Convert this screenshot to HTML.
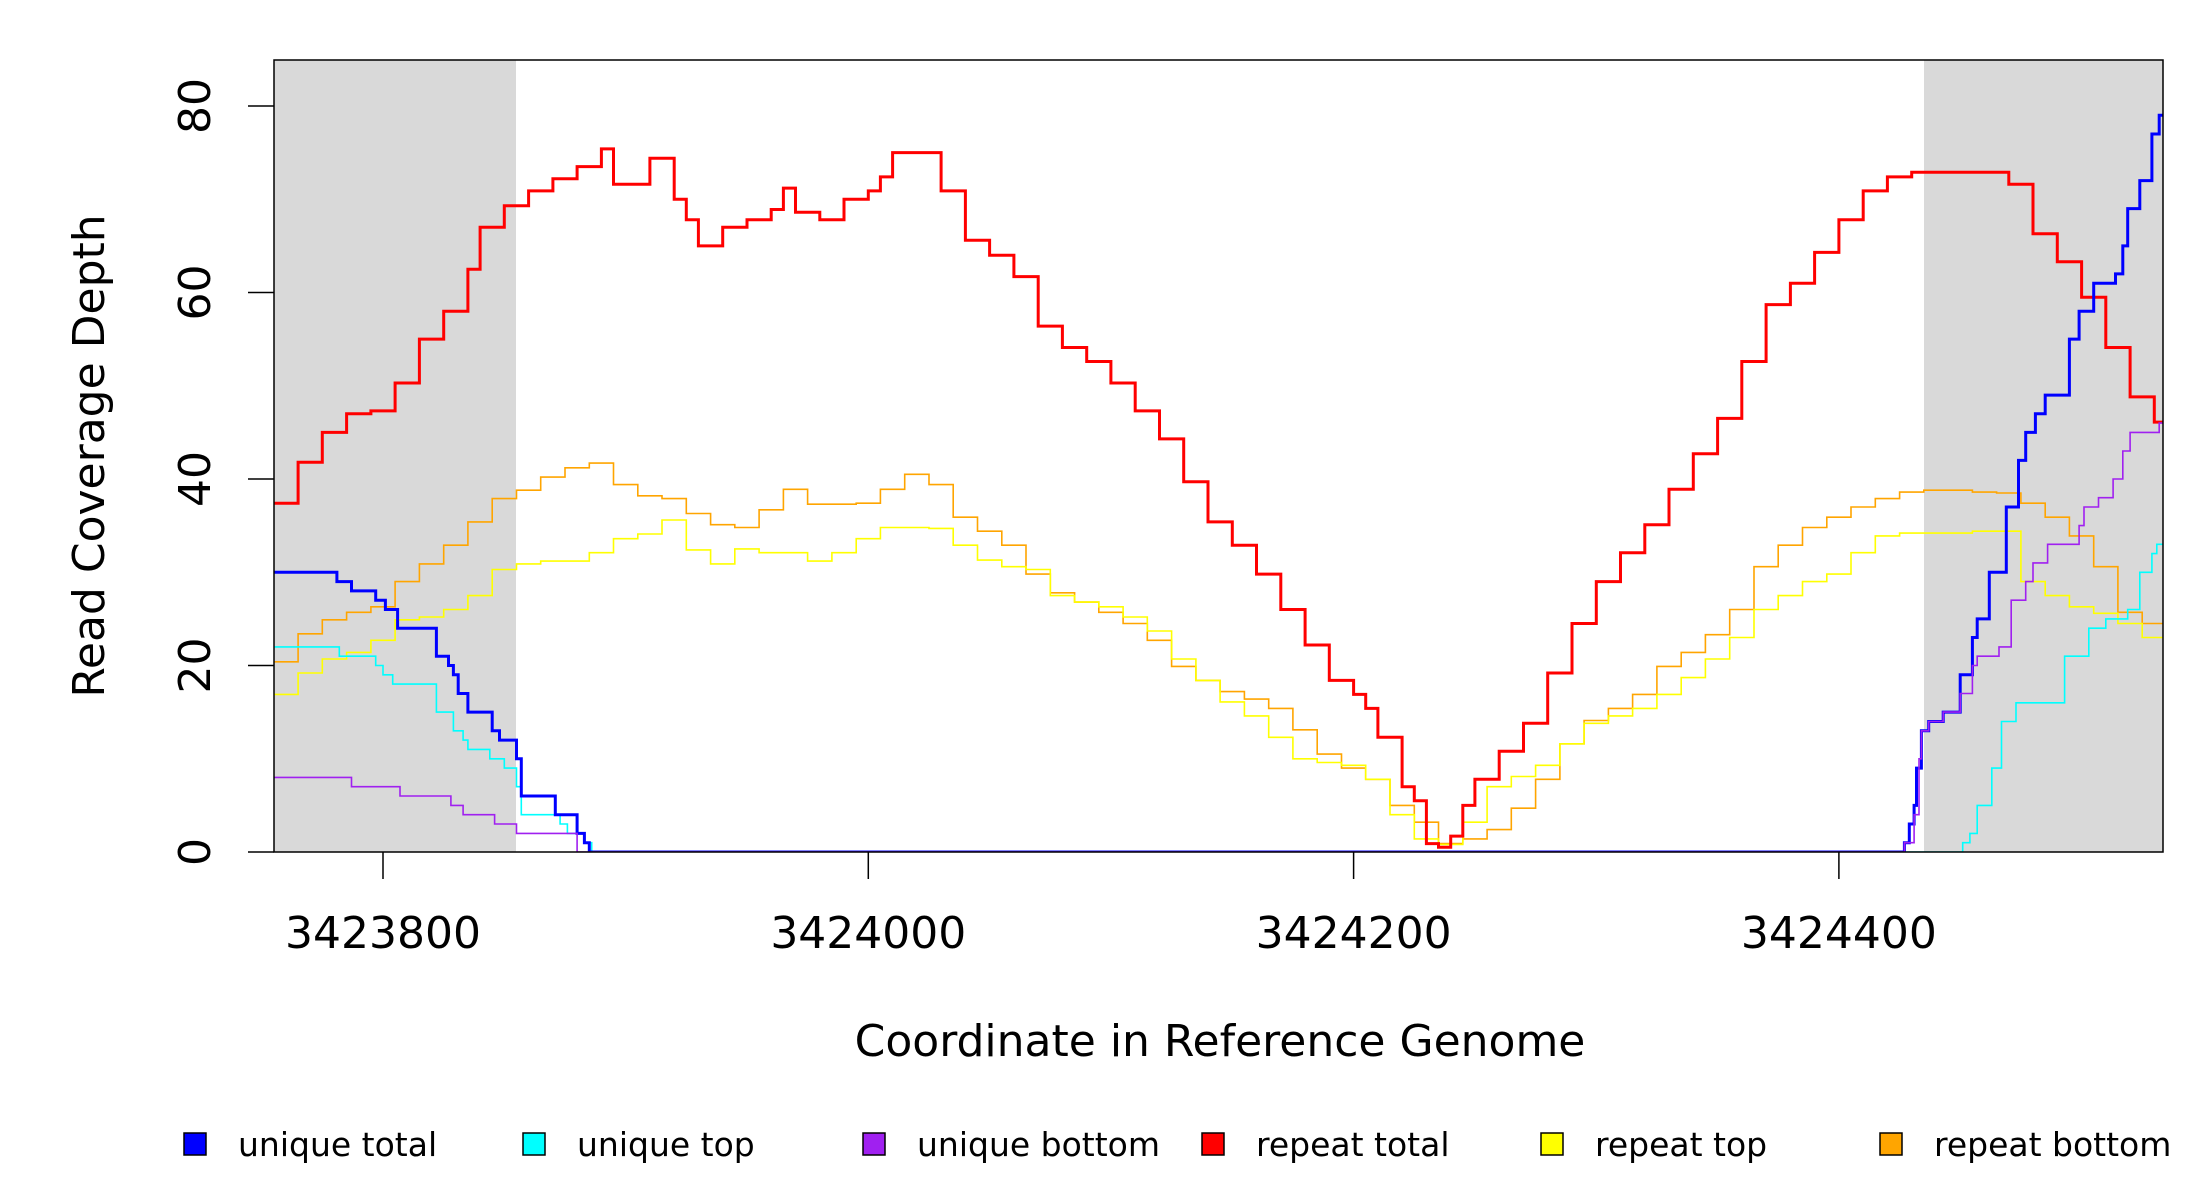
<!DOCTYPE html>
<html><head><meta charset="utf-8"><style>
html,body{margin:0;padding:0;background:#fff}
svg{display:block;font-family:"DejaVu Sans","Liberation Sans",sans-serif}
</style></head><body>
<svg id="chart" width="2200" height="1200" viewBox="0 0 2200 1200">
<defs><clipPath id="clip"><rect x="274" y="60" width="1889" height="792"/></clipPath></defs>
<rect x="274" y="60" width="242" height="792" fill="#d9d9d9"/>
<rect x="1924" y="60" width="239" height="792" fill="#d9d9d9"/>
<g id="series" clip-path="url(#clip)"></g>
<rect x="274" y="60" width="1889" height="792" fill="none" stroke="#000" stroke-width="1.5"/>
<g id="axes"></g>
<text x="0" y="0" transform="translate(104,456) rotate(-90)" text-anchor="middle" font-size="44">Read Coverage Depth</text>
<text x="1220" y="1056" text-anchor="middle" font-size="44">Coordinate in Reference Genome</text>
<g id="legend"></g>
</svg>
<script>
const xTicks = [3423800, 3424000, 3424200, 3424400];
const yTicks = [0, 20, 40, 60, 80];
const redPos = [3423755,3423765,3423775,3423785,3423795,3423805,3423815,3423825,3423835,3423840,3423850,3423860,3423870,3423880,3423890,3423895,3423905,3423910,3423920,3423925,3423930,3423940,3423950,3423960,3423965,3423970,3423980,3423990,3424000,3424005,3424010,3424020,3424030,3424040,3424050,3424060,3424070,3424080,3424090,3424100,3424110,3424120,3424130,3424140,3424150,3424160,3424170,3424180,3424190,3424200,3424205,3424210,3424220,3424225,3424230,3424235,3424240,3424245,3424250,3424260,3424270,3424280,3424290,3424300,3424310,3424320,3424330,3424340,3424350,3424360,3424370,3424380,3424390,3424400,3424410,3424420,3424430,3424440,3424450,3424460,3424470,3424480,3424490,3424500,3424510,3424520,3424530,3424535];
const repeatTotal = [37.4,41.8,45,47,47.3,50.3,55,58,62.5,67,69.3,70.9,72.2,73.5,75.4,71.6,71.6,74.4,70,67.8,65,67,67.8,68.9,71.2,68.6,67.8,70,70.9,72.4,75,75,70.9,65.6,64,61.7,56.4,54.1,52.6,50.3,47.3,44.3,39.7,35.4,32.9,29.8,26,22.2,18.4,16.9,15.4,12.3,7,5.5,0.9,0.5,1.7,5,7.8,10.8,13.8,19.2,24.5,29,32.1,35.1,38.9,42.7,46.5,52.6,58.7,61,64.3,67.8,70.9,72.4,72.9,72.9,72.9,72.9,71.6,66.3,63.3,59.5,54.1,48.8,46.1,45];
const repPos = [3423755,3423765,3423775,3423785,3423795,3423805,3423815,3423825,3423835,3423845,3423855,3423865,3423875,3423885,3423895,3423905,3423915,3423925,3423935,3423945,3423955,3423965,3423975,3423985,3423995,3424005,3424015,3424025,3424035,3424045,3424055,3424065,3424075,3424085,3424095,3424105,3424115,3424125,3424135,3424145,3424155,3424165,3424175,3424185,3424195,3424205,3424215,3424225,3424235,3424245,3424255,3424265,3424275,3424285,3424295,3424305,3424315,3424325,3424335,3424345,3424355,3424365,3424375,3424385,3424395,3424405,3424415,3424425,3424435,3424445,3424455,3424465,3424475,3424485,3424495,3424505,3424515,3424525,3424535];
const repeatBottom = [20.4,23.4,24.9,25.7,26.3,29,30.9,32.9,35.4,37.9,38.8,40.2,41.2,41.7,39.4,38.2,37.9,36.3,35.1,34.8,36.7,38.9,37.3,37.3,37.4,38.9,40.5,39.4,35.9,34.4,32.9,29.8,27.8,26.8,25.7,24.5,22.7,19.9,18.4,17.2,16.4,15.4,13.1,10.5,9,7.8,5,3.2,0.9,1.4,2.4,4.7,7.8,11.6,14.1,15.4,16.9,19.9,21.4,23.3,26,30.6,32.9,34.8,35.9,37,37.9,38.6,38.8,38.8,38.6,38.5,37.4,35.9,33.9,30.6,25.7,24.5,23.7];
const repeatTop = [16.9,19.2,20.7,21.4,22.7,24.9,25.2,26,27.5,30.3,30.9,31.2,31.2,32.1,33.6,34.1,35.6,32.4,30.9,32.5,32.1,32.1,31.2,32.1,33.6,34.8,34.8,34.7,32.9,31.3,30.6,30.3,27.5,26.8,26.3,25.2,23.7,20.7,18.4,16.1,14.6,12.3,10,9.6,9.3,7.8,4,1.4,0.8,3.2,7,8.1,9.3,11.6,13.8,14.6,15.4,16.9,18.7,20.7,23,26,27.5,29,29.8,32.1,33.9,34.2,34.2,34.2,34.4,34.4,29,27.5,26.3,25.6,24.5,23,21.4];
const utPos = [3423755,3423781,3423787,3423797,3423801,3423806,3423822,3423827,3423829,3423831,3423835,3423845,3423848,3423855,3423857,3423871,3423880,3423883,3423885,3424427,3424429,3424431,3424432,3424434,3424437,3424443,3424450,3424455,3424457,3424462,3424469,3424474,3424477,3424481,3424485,3424495,3424499,3424505,3424514,3424517,3424519,3424524,3424529,3424532,3424534];
const uniqueTotal = [30,29,28,27,26,24,21,20,19,17,15,13,12,10,6,4,2,1,0,1,3,5,9,13,14,15,19,23,25,30,37,42,45,47,49,55,58,61,62,65,69,72,77,79,80];
const upPos = [3423755,3423782,3423797,3423800,3423804,3423822,3423829,3423833,3423835,3423844,3423850,3423855,3423857,3423873,3423876,3423883,3423886,3424451,3424454,3424457,3424463,3424467,3424473,3424493,3424503,3424510,3424519,3424524,3424529,3424531];
const uniqueTop = [22,21,20,19,18,15,13,12,11,10,9,7,4,3,2,1,0,1,2,5,9,14,16,21,24,25,26,30,32,33];
const ubPos = [3423755,3423787,3423807,3423828,3423833,3423846,3423855,3423880,3424427,3424431,3424433,3424434,3424437,3424443,3424450,3424455,3424457,3424466,3424471,3424477,3424480,3424486,3424499,3424501,3424507,3424513,3424517,3424520,3424532,3424534];
const uniqueBottom = [8,7,6,5,4,3,2,0,1,4,10,13,14,15,17,20,21,22,27,29,31,33,35,37,38,40,43,45,46,47];
const legendLabels = ["unique total","unique top","unique bottom","repeat total","repeat top","repeat bottom"];
const legendColors = ["#0000ff","#00ffff","#a020f0","#ff0000","#ffff00","#ffa500"];

const NS = "http://www.w3.org/2000/svg";
const X0 = 3423800, PX0 = 383, KX = 2.4265;
const Y0PX = 852, KY = 9.325;
function xs(c){ return PX0 + (c - X0) * KX; }
function ys(v){ return Y0PX - v * KY; }
const XEND = 3424540;

function stepPath(pos, vals){
  let d = "M" + xs(pos[0]).toFixed(1) + "," + ys(vals[0]).toFixed(1);
  for (let i = 1; i < pos.length; i++){
    d += "H" + xs(pos[i]).toFixed(1) + "V" + ys(vals[i]).toFixed(1);
  }
  d += "H" + xs(XEND).toFixed(1);
  return d;
}
const sg = document.getElementById("series");
function addSeries(pos, vals, color, w, name){
  const p = document.createElementNS(NS, "path");
  p.setAttribute("d", stepPath(pos, vals));
  p.setAttribute("fill", "none");
  p.setAttribute("stroke", color);
  p.setAttribute("stroke-width", w);
  
  
  sg.appendChild(p);
}
addSeries(repPos, repeatBottom, "#ffa500", 1.6, "repeat-bottom-line");
addSeries(repPos, repeatTop, "#ffff00", 1.6, "repeat-top-line");
addSeries(upPos, uniqueTop, "#00ffff", 1.6, "unique-top-line");
addSeries(redPos, repeatTotal, "#ff0000", 3, "repeat-total-line");
addSeries(utPos, uniqueTotal, "#0000ff", 3, "unique-total-line");
addSeries(ubPos, uniqueBottom, "#a020f0", 1.6, "unique-bottom-line");

const ax = document.getElementById("axes");
function mk(tag, attrs){
  const e = document.createElementNS(NS, tag);
  for (const k in attrs) e.setAttribute(k, attrs[k]);
  return e;
}
yTicks.forEach(v => {
  const t = mk("line", {x1:248, x2:274, y1:ys(v), y2:ys(v), stroke:"#000", "stroke-width":1.5});
  
  
  ax.appendChild(t);
  const l = mk("text", {transform:"translate(210," + ys(v) + ") rotate(-90)", "text-anchor":"middle", "font-size":44});
  l.textContent = String(v);
  
  
  ax.appendChild(l);
});
xTicks.forEach(c => {
  const t = mk("line", {x1:xs(c), x2:xs(c), y1:852, y2:879, stroke:"#000", "stroke-width":1.5});
  
  
  ax.appendChild(t);
  const l = mk("text", {x:xs(c), y:948, "text-anchor":"middle", "font-size":44});
  l.textContent = String(c);
  
  
  ax.appendChild(l);
});

const lg = document.getElementById("legend");
const sqX = [184, 523, 863, 1202, 1541, 1880];
legendLabels.forEach((lab, i) => {
  const r = mk("rect", {x:sqX[i], y:1133, width:22, height:22, fill:legendColors[i], stroke:"#000", "stroke-width":1.5});
  
  
  lg.appendChild(r);
  const t = mk("text", {x:sqX[i] + 54, y:1156, "font-size":33});
  t.textContent = lab;
  
  
  lg.appendChild(t);
});
</script>
</body></html>
